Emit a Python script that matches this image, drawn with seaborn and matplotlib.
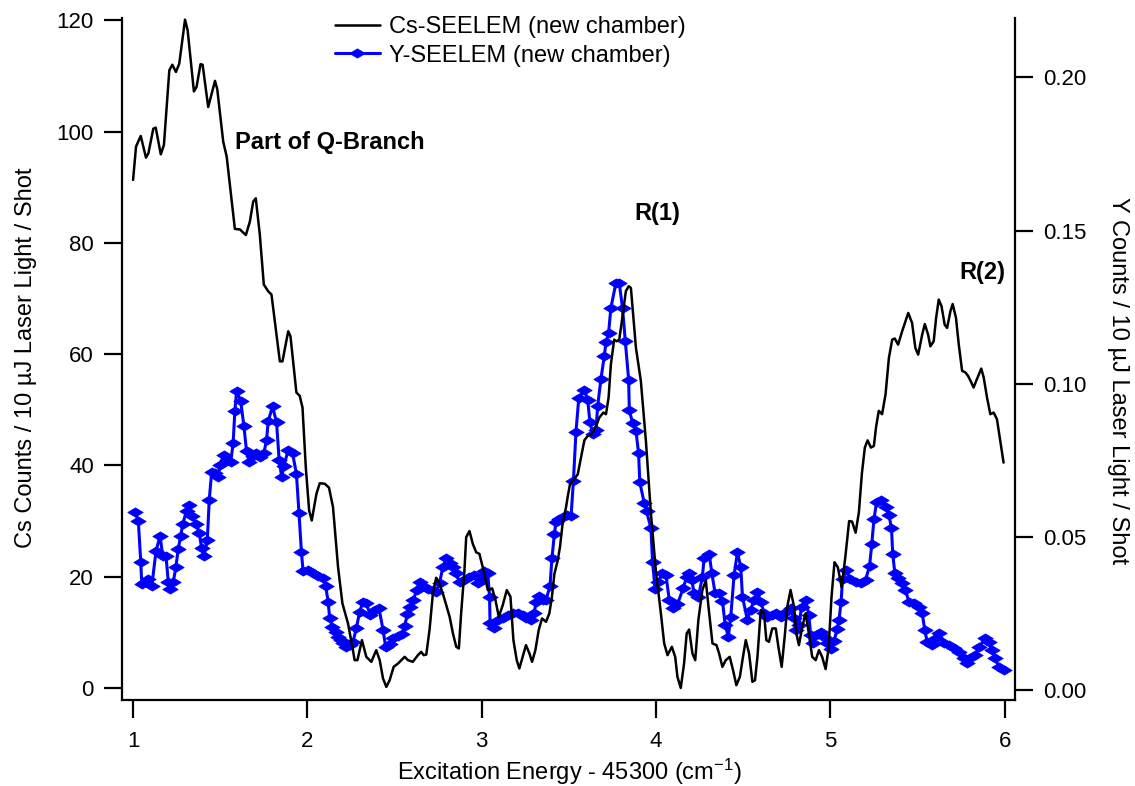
import matplotlib
matplotlib.use('Agg')
import matplotlib.pyplot as plt
import seaborn as sns
from matplotlib.path import Path
from matplotlib.ticker import FormatStrFormatter

# Cs-SEELEM trace (left axis)
cs_energy = [1.000, 1.017, 1.044, 1.074, 1.088, 1.116, 1.130, 1.159, 1.177, 1.208,
             1.225, 1.246, 1.265, 1.298, 1.313, 1.349, 1.364, 1.387, 1.399, 1.431,
             1.470, 1.483, 1.517, 1.537, 1.584, 1.613, 1.647, 1.670, 1.689, 1.704,
             1.727, 1.750, 1.775, 1.794, 1.842, 1.857, 1.890, 1.903, 1.937, 1.956,
             1.972, 1.991, 2.010, 2.025, 2.052, 2.071, 2.100, 2.124, 2.147, 2.176,
             2.201, 2.233, 2.258, 2.271, 2.287, 2.313, 2.338, 2.367, 2.395, 2.415,
             2.434, 2.453, 2.472, 2.495, 2.520, 2.558, 2.577, 2.605, 2.634, 2.653,
             2.667, 2.682, 2.701, 2.720, 2.739, 2.754, 2.777, 2.816, 2.835, 2.854,
             2.869, 2.882, 2.901, 2.911, 2.930, 2.949, 2.968, 2.987, 3.006, 3.035,
             3.060, 3.079, 3.098, 3.121, 3.144, 3.165, 3.182, 3.201, 3.216, 3.235,
             3.254, 3.274, 3.289, 3.308, 3.327, 3.346, 3.369, 3.388, 3.403, 3.417,
             3.436, 3.449, 3.464, 3.484, 3.493, 3.507, 3.532, 3.551, 3.570, 3.589,
             3.608, 3.627, 3.652, 3.675, 3.698, 3.713, 3.728, 3.741, 3.760, 3.774,
             3.789, 3.804, 3.827, 3.843, 3.856, 3.885, 3.913, 3.942, 3.971, 3.999,
             4.028, 4.047, 4.066, 4.091, 4.110, 4.123, 4.142, 4.161, 4.176, 4.190,
             4.209, 4.225, 4.243, 4.266, 4.286, 4.301, 4.324, 4.347, 4.362, 4.381,
             4.400, 4.423, 4.442, 4.461, 4.481, 4.499, 4.515, 4.534, 4.553, 4.568,
             4.582, 4.601, 4.620, 4.633, 4.648, 4.667, 4.687, 4.702, 4.721, 4.740,
             4.753, 4.772, 4.792, 4.805, 4.820, 4.839, 4.858, 4.877, 4.896, 4.916,
             4.935, 4.953, 4.973, 4.990, 5.007, 5.024, 5.043, 5.065, 5.086, 5.108,
             5.125, 5.145, 5.164, 5.181, 5.198, 5.214, 5.233, 5.250, 5.262, 5.278,
             5.297, 5.317, 5.336, 5.355, 5.370, 5.389, 5.412, 5.431, 5.447, 5.469,
             5.488, 5.504, 5.527, 5.542, 5.561, 5.574, 5.593, 5.607, 5.622, 5.638,
             5.656, 5.670, 5.689, 5.702, 5.721, 5.737, 5.756, 5.775, 5.790, 5.809,
             5.822, 5.841, 5.866, 5.880, 5.899, 5.918, 5.937, 5.956, 5.975, 5.994]
cs_counts = [91.3, 97.3, 99.2, 95.3, 96.1, 100.5, 100.7, 95.9, 97.6, 111.0,
             112.0, 110.7, 112.2, 120.1, 118.2, 107.2, 108.0, 112.1, 112.0, 104.4,
             109.1, 107.6, 98.2, 95.5, 82.5, 82.4, 81.4, 83.8, 87.4, 88.0,
             81.5, 72.5, 71.3, 70.7, 58.7, 58.7, 64.1, 63.2, 53.1, 52.5,
             50.4, 39.6, 31.9, 30.1, 34.9, 36.8, 36.7, 36.0, 32.5, 21.7,
             15.2, 11.6, 7.4, 5.0, 5.0, 8.6, 5.6, 4.7, 6.8, 5.0,
             1.7, 0.2, 1.4, 3.8, 4.4, 5.6, 5.0, 4.7, 5.9, 6.5,
             5.9, 6.0, 10.5, 17.0, 19.8, 19.0, 17.0, 12.8, 9.8, 7.4,
             7.1, 13.4, 21.1, 27.1, 28.2, 25.9, 24.4, 24.1, 21.7, 17.6,
             17.9, 15.8, 12.8, 14.9, 17.6, 16.4, 8.6, 5.0, 3.5, 5.6,
             7.7, 6.2, 4.7, 6.8, 10.4, 12.5, 11.9, 13.4, 16.4, 20.5,
             22.9, 25.3, 29.5, 32.5, 34.3, 36.7, 37.6, 38.4, 41.4, 44.5,
             45.3, 45.5, 46.8, 48.6, 49.5, 49.2, 52.2, 58.1, 62.6, 62.3,
             62.6, 65.9, 71.3, 72.2, 71.9, 61.1, 55.2, 44.4, 31.3, 21.1,
             13.4, 8.0, 5.9, 7.4, 5.6, 2.0, 0.0, 4.4, 9.8, 10.5,
             6.2, 5.0, 12.2, 17.6, 19.3, 14.6, 8.0, 7.7, 6.2, 3.8,
             5.0, 5.6, 3.2, 0.5, 2.0, 5.6, 8.6, 6.2, 1.1, 1.4,
             5.6, 14.0, 13.4, 8.6, 8.3, 10.7, 10.7, 7.4, 3.8, 9.8,
             14.6, 17.6, 14.6, 9.8, 7.7, 11.0, 13.4, 9.8, 5.6, 5.0,
             6.8, 5.6, 3.4, 7.1, 16.4, 22.6, 21.7, 18.1, 23.5, 30.0,
             29.9, 27.9, 31.6, 38.5, 43.2, 44.5, 43.2, 43.5, 46.8, 49.8,
             49.2, 52.8, 59.3, 62.6, 62.8, 61.7, 64.1, 65.9, 67.4, 65.6,
             61.1, 59.9, 63.5, 65.4, 63.5, 61.4, 62.3, 66.5, 69.8, 68.6,
             65.3, 64.7, 67.7, 69.0, 66.5, 61.7, 57.0, 56.7, 56.1, 54.9,
             54.0, 55.5, 57.4, 55.8, 52.2, 49.2, 49.5, 48.3, 44.4, 40.5]

# Y-SEELEM trace (right axis)
y_energy = [1.011, 1.030, 1.044, 1.050, 1.069, 1.088, 1.107, 1.132, 1.155, 1.170,
            1.189, 1.202, 1.212, 1.231, 1.246, 1.259, 1.273, 1.285, 1.307, 1.322,
            1.336, 1.361, 1.380, 1.393, 1.407, 1.426, 1.437, 1.451, 1.470, 1.489,
            1.498, 1.521, 1.537, 1.561, 1.574, 1.584, 1.594, 1.617, 1.636, 1.651,
            1.666, 1.686, 1.708, 1.727, 1.750, 1.766, 1.775, 1.800, 1.823, 1.838,
            1.852, 1.865, 1.890, 1.915, 1.937, 1.952, 1.966, 1.975, 2.004, 2.033,
            2.061, 2.090, 2.105, 2.119, 2.128, 2.144, 2.163, 2.176, 2.190, 2.205,
            2.224, 2.243, 2.262, 2.281, 2.300, 2.319, 2.338, 2.361, 2.386, 2.411,
            2.434, 2.449, 2.472, 2.491, 2.520, 2.544, 2.558, 2.574, 2.591, 2.608,
            2.628, 2.645, 2.665, 2.692, 2.720, 2.739, 2.758, 2.777, 2.797, 2.816,
            2.835, 2.850, 2.873, 2.901, 2.930, 2.953, 2.978, 2.997, 3.016, 3.035,
            3.045, 3.048, 3.073, 3.092, 3.121, 3.149, 3.178, 3.207, 3.235, 3.254,
            3.283, 3.302, 3.312, 3.331, 3.350, 3.369, 3.392, 3.403, 3.417, 3.426,
            3.446, 3.469, 3.487, 3.513, 3.526, 3.541, 3.557, 3.589, 3.608, 3.621,
            3.637, 3.656, 3.665, 3.684, 3.703, 3.713, 3.728, 3.741, 3.770, 3.789,
            3.808, 3.824, 3.843, 3.847, 3.866, 3.885, 3.900, 3.907, 3.932, 3.946,
            3.971, 3.980, 3.995, 4.014, 4.037, 4.057, 4.076, 4.099, 4.123, 4.156,
            4.175, 4.190, 4.205, 4.219, 4.243, 4.266, 4.276, 4.305, 4.320, 4.339,
            4.362, 4.381, 4.397, 4.415, 4.429, 4.448, 4.467, 4.486, 4.496, 4.524,
            4.543, 4.562, 4.581, 4.601, 4.620, 4.639, 4.667, 4.687, 4.716, 4.744,
            4.772, 4.792, 4.805, 4.820, 4.835, 4.858, 4.877, 4.887, 4.900, 4.919,
            4.944, 4.963, 4.982, 5.002, 5.021, 5.040, 5.050, 5.062, 5.070, 5.092,
            5.113, 5.145, 5.174, 5.202, 5.225, 5.238, 5.250, 5.266, 5.290, 5.317,
            5.336, 5.351, 5.358, 5.370, 5.389, 5.412, 5.431, 5.450, 5.479, 5.507,
            5.527, 5.542, 5.555, 5.584, 5.607, 5.626, 5.651, 5.679, 5.708, 5.737,
            5.765, 5.784, 5.803, 5.828, 5.855, 5.889, 5.908, 5.927, 5.947, 5.966,
            5.994]
y_counts = [0.0581, 0.0553, 0.0419, 0.0346, 0.0354, 0.0362, 0.0338, 0.0455, 0.0503, 0.0438,
            0.0436, 0.0354, 0.0329, 0.0354, 0.0403, 0.0460, 0.0503, 0.0542, 0.0586, 0.0605,
            0.0569, 0.0542, 0.0514, 0.0463, 0.0438, 0.0490, 0.0621, 0.0713, 0.0708, 0.0697,
            0.0735, 0.0768, 0.0752, 0.0746, 0.0806, 0.0912, 0.0975, 0.0945, 0.0861, 0.0779,
            0.0746, 0.0765, 0.0773, 0.0762, 0.0773, 0.0817, 0.0877, 0.0926, 0.0874, 0.0752,
            0.0697, 0.0730, 0.0784, 0.0773, 0.0706, 0.0577, 0.0449, 0.0390, 0.0392, 0.0381,
            0.0373, 0.0365, 0.0338, 0.0289, 0.0234, 0.0207, 0.0191, 0.0174, 0.0163, 0.0152,
            0.0142, 0.0147, 0.0158, 0.0202, 0.0256, 0.0289, 0.0283, 0.0245, 0.0261, 0.0267,
            0.0196, 0.0142, 0.0150, 0.0169, 0.0176, 0.0183, 0.0210, 0.0248, 0.0272, 0.0294,
            0.0328, 0.0352, 0.0340, 0.0330, 0.0327, 0.0321, 0.0349, 0.0401, 0.0430, 0.0416,
            0.0401, 0.0381, 0.0354, 0.0359, 0.0370, 0.0376, 0.0349, 0.0365, 0.0387, 0.0381,
            0.0305, 0.0218, 0.0202, 0.0229, 0.0234, 0.0245, 0.0251, 0.0253, 0.0245, 0.0234,
            0.0229, 0.0253, 0.0289, 0.0307, 0.0294, 0.0294, 0.0340, 0.0430, 0.0510, 0.0547,
            0.0558, 0.0564, 0.0572, 0.0569, 0.0681, 0.0844, 0.0953, 0.0980, 0.0948, 0.0874,
            0.0837, 0.0850, 0.0926, 0.1015, 0.1089, 0.1135, 0.1166, 0.1247, 0.1329, 0.1329,
            0.1247, 0.1138, 0.1013, 0.0913, 0.0871, 0.0847, 0.0773, 0.0678, 0.0612, 0.0583,
            0.0528, 0.0419, 0.0329, 0.0354, 0.0381, 0.0376, 0.0294, 0.0267, 0.0280, 0.0332,
            0.0368, 0.0381, 0.0359, 0.0316, 0.0303, 0.0370, 0.0430, 0.0444, 0.0383, 0.0316,
            0.0316, 0.0292, 0.0212, 0.0174, 0.0240, 0.0376, 0.0449, 0.0403, 0.0305, 0.0229,
            0.0261, 0.0294, 0.0321, 0.0289, 0.0251, 0.0240, 0.0245, 0.0251, 0.0240, 0.0256,
            0.0267, 0.0234, 0.0196, 0.0212, 0.0272, 0.0294, 0.0245, 0.0180, 0.0153, 0.0180,
            0.0191, 0.0174, 0.0153, 0.0134, 0.0160, 0.0200, 0.0229, 0.0289, 0.0362, 0.0393,
            0.0362, 0.0354, 0.0349, 0.0359, 0.0405, 0.0476, 0.0557, 0.0615, 0.0619, 0.0599,
            0.0572, 0.0528, 0.0444, 0.0383, 0.0365, 0.0349, 0.0327, 0.0289, 0.0283, 0.0272,
            0.0251, 0.0196, 0.0158, 0.0147, 0.0169, 0.0185, 0.0153, 0.0147, 0.0136, 0.0125,
            0.0104, 0.0087, 0.0104, 0.0114, 0.0142, 0.0169, 0.0158, 0.0131, 0.0104, 0.0076,
            0.0065]

series_labels = ['Cs-SEELEM (new chamber)', 'Y-SEELEM (new chamber)']
x_ticks = [1, 2, 3, 4, 5, 6]
cs_ticks = [0, 20, 40, 60, 80, 100, 120]
y_ticks = [0.00, 0.05, 0.10, 0.15, 0.20]

sns.set_style('ticks')
plt.rcParams['font.family'] = ['Liberation Sans', 'DejaVu Sans']
plt.rcParams['mathtext.fontset'] = 'custom'
plt.rcParams['mathtext.rm'] = 'Liberation Sans'
for key in ['text.color', 'axes.labelcolor', 'xtick.color', 'ytick.color', 'axes.edgecolor']:
    plt.rcParams[key] = 'black'

fig = plt.figure(figsize=(11.35, 7.86), dpi=100)
ax = fig.add_axes([0.1072, 0.1094, 0.7871, 0.8677])
ax2 = ax.twinx()

# flat diamond marker like the original
diamond = Path([(-1, 0), (0, 0.6), (1, 0), (0, -0.6), (-1, 0)],
               [Path.MOVETO, Path.LINETO, Path.LINETO, Path.LINETO, Path.CLOSEPOLY])

sns.lineplot(x=y_energy, y=y_counts, ax=ax2, color='#0000ff', linewidth=2.2,
             marker=diamond, markersize=11, markeredgecolor='#0000ff', markeredgewidth=0.6,
             estimator=None, sort=False, legend=False)
sns.lineplot(x=cs_energy, y=cs_counts, ax=ax, color='black', linewidth=1.8,
             estimator=None, sort=False, legend=False)

# black trace on top of the blue one
ax.set_zorder(ax2.get_zorder() + 1)
ax.patch.set_visible(False)

ax.set_xlim(0.9346, 6.0597)
ax.set_ylim(-2.16, 120.4)
ax2.set_ylim(-0.00326, 0.2194)
ax.set_xticks(x_ticks)
ax.set_yticks(cs_ticks)
ax2.set_yticks(y_ticks)
ax2.yaxis.set_major_formatter(FormatStrFormatter('%.2f'))

for a in (ax, ax2):
    a.spines['top'].set_visible(False)
    for s in a.spines.values():
        s.set_linewidth(1.6)
ax.spines['right'].set_visible(False)
ax2.spines['left'].set_visible(False)
ax2.spines['bottom'].set_visible(False)

ax.tick_params(axis='y', direction='out', length=13, width=1.6, labelsize=16, pad=7)
ax.tick_params(axis='x', direction='out', length=13, width=1.6, labelsize=16, pad=9)
ax2.tick_params(axis='y', direction='out', length=13, width=1.6, labelsize=16, pad=7)

ax.set_xlabel('Excitation Energy - 45300 (cm$\\mathregular{^{-1}}$)', fontsize=17)
ax.set_ylabel('Cs Counts / 10 µJ Laser Light / Shot', fontsize=17)
ax2.set_ylabel('Y Counts / 10 µJ Laser Light / Shot', fontsize=17, rotation=-90, va='center')
ax.xaxis.label.set_va('center')
ax.yaxis.label.set_va('center')
ax.xaxis.set_label_coords(0.5007, -0.105)
ax.yaxis.set_label_coords(-0.1075, 0.502)
ax2.yaxis.set_label_coords(1.1155, 0.469)

ax.text(1.584, 98.0, 'Part of Q-Branch', fontsize=17, fontweight='bold', ha='left', va='center')
ax.text(4.007, 85.3, 'R(1)', fontsize=17, fontweight='bold', ha='center', va='center')
ax.text(5.874, 74.7, 'R(2)', fontsize=17, fontweight='bold', ha='center', va='center')

handles = [ax.lines[-1], ax2.lines[-1]]
ax.legend(handles, series_labels, loc='upper left', bbox_to_anchor=(335 / 1135, 1 - 16 / 786),
          bbox_transform=fig.transFigure, frameon=False, fontsize=17, handlelength=1.9,
          handletextpad=0.38, labelspacing=0.28, borderpad=0, borderaxespad=0)

fig.savefig('out.png', dpi=100)
